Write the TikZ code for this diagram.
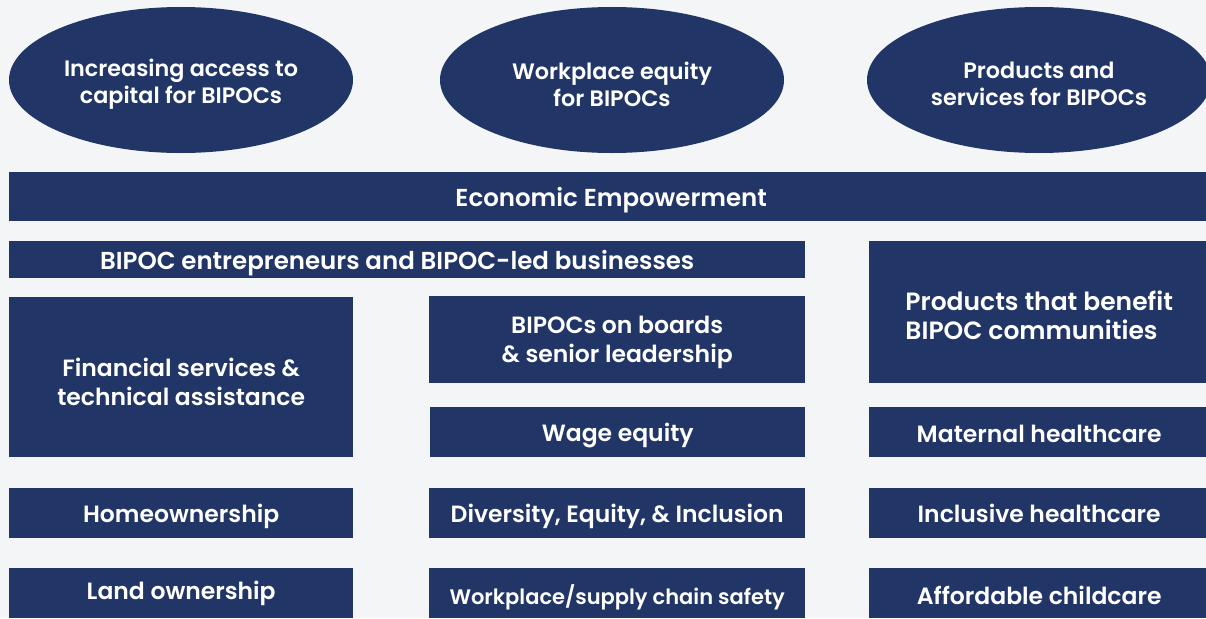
\documentclass[tikz,border=0pt]{standalone}
\usepackage{fontspec}
\setmainfont{Poppins}[BoldFont={Poppins SemiBold}]
\usetikzlibrary{shapes.geometric}
\definecolor{navy}{HTML}{213566}
\definecolor{bg}{HTML}{F3F5F7}
% #1 text options, #2 name, #3 x, #4 y, #5 w, #6 h, #7 text shift (down), #8 text
\newcommand\navybox[8][]{%
  \node[box,minimum width=#5pt,minimum height=#6pt] (#2) at (#3,#4) {};
  \node[txt,#1] (#2-t) at ([yshift=-#7pt]#2.center) {#8};}
\begin{document}
\begin{tikzpicture}[x=1pt,y=-1pt,
  box/.style={fill=navy,inner sep=0pt,anchor=north west},
  txt/.style={text=white,inner sep=0pt,font=\bfseries\fontsize{23.5}{29}\selectfont,align=center},
  oval/.style={ellipse,fill=navy,inner sep=0pt,
    minimum width=344pt,minimum height=146pt},
  ovaltxt/.style={text=white,inner sep=0pt,font=\bfseries\fontsize{22.3}{27}\selectfont,align=center}]
\fill[bg] (0,0) rectangle (1206,618);
\useasboundingbox (0,0) rectangle (1206,618);
\clip (0,0) rectangle (1206,618);
% ellipses
\node[oval] (o1) at (181,80) {};
\node[ovaltxt] (o1-t) at ([yshift=-4pt]o1.center) {Increasing access to\\capital for BIPOCs};
\node[oval] (o2) at (612,80) {};
\node[ovaltxt] (o2-t) at ([yshift=-4pt]o2.center) {Workplace equity\\for BIPOCs};
\node[oval] (o3) at (1039,80) {};
\node[ovaltxt] (o3-t) at ([yshift=-4pt]o3.center) {Products and\\services for BIPOCs};
% bars
\navybox[font=\bfseries\fontsize{24.5}{29}\selectfont]{ee}{9}{172}{1204}{49}{3}{Economic Empowerment}
\navybox[font=\bfseries\fontsize{24.5}{29}\selectfont,xshift=-10pt]{ent}{9}{241}{796}{37}{3}{BIPOC entrepreneurs and BIPOC-led businesses}
% left column
\navybox{fin}{9}{297}{344}{160}{4.5}{Financial services \&\\technical assistance}
\navybox{home}{9}{488}{344}{50}{3}{Homeownership}
\navybox{land}{9}{568}{344}{50}{0}{Land ownership}
% middle column
\navybox{brd}{429}{296}{376}{87}{3}{BIPOCs on boards\\\& senior leadership}
\navybox{wage}{430}{407}{375}{50}{3}{Wage equity}
\navybox{dei}{429}{488}{376}{50}{3}{Diversity, Equity, \& Inclusion}
\navybox[font=\bfseries\fontsize{21}{24}\selectfont]{wss}{429}{568}{376}{50}{4.5}{Workplace/supply chain safety}
% right column
\navybox[align=left,font=\bfseries\fontsize{25}{29}\selectfont]{prod}{869}{241}{340}{142}{3}{Products that benefit\\BIPOC communities}
\navybox{mat}{869}{407}{340}{50}{2}{Maternal healthcare}
\navybox{inc}{869}{488}{340}{50}{0.5}{Inclusive healthcare}
\navybox{aff}{869}{568}{340}{50}{2.5}{Affordable childcare}
\end{tikzpicture}
\end{document}
